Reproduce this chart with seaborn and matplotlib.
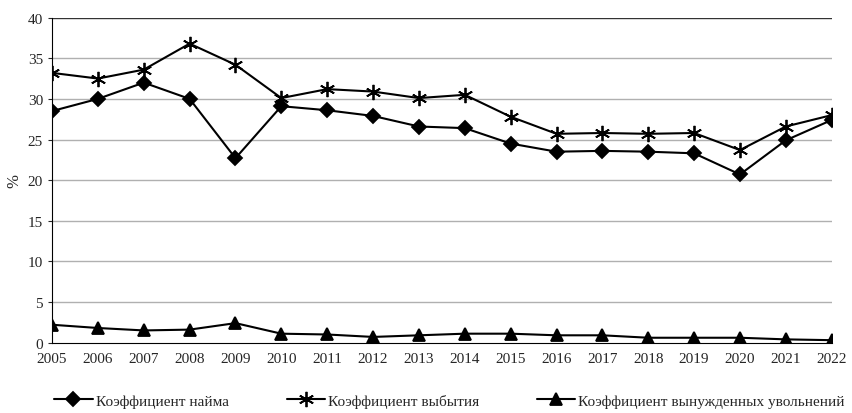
import numpy as np
import pandas as pd
import matplotlib
matplotlib.use('Agg')
import matplotlib.pyplot as plt
import seaborn as sns

years = list(range(2005, 2023))
hire = [28.5, 30.0, 32.0, 30.0, 22.7, 29.1, 28.6, 27.9, 26.6, 26.4, 24.5, 23.5, 23.6, 23.5, 23.3, 20.7, 24.9, 27.4]
leave = [33.2, 32.5, 33.6, 36.8, 34.2, 30.1, 31.2, 30.9, 30.1, 30.5, 27.8, 25.7, 25.8, 25.7, 25.8, 23.7, 26.6, 28.0]
forced = [2.2, 1.8, 1.5, 1.6, 2.4, 1.1, 1.0, 0.7, 0.9, 1.1, 1.1, 0.9, 0.9, 0.6, 0.6, 0.6, 0.4, 0.3]
names = ['Коэффициент найма', 'Коэффициент выбытия', 'Коэффициент вынужденных увольнений']
markers = ['D', (6, 2, 0), '^']
msizes = [7, 11, 8]

sns.set_style('white')
plt.rcParams['font.family'] = ['Liberation Serif', 'DejaVu Serif']

fig, ax = plt.subplots(figsize=(8.53, 4.14), dpi=100)
for vals, name, m, ms in zip([hire, leave, forced], names, markers, msizes):
    sns.lineplot(x=years, y=vals, color='black', marker=m, markersize=ms,
                 markeredgecolor='black', markeredgewidth=1.3, linewidth=1.5,
                 label=name, ax=ax)

ax.set_xlim(2005, 2022)
ax.set_ylim(0, 40)
ax.set_xticks(years)
ax.set_yticks(range(0, 41, 5))
for y in range(5, 40, 5):
    ax.axhline(y, color='#b0b0b0', linewidth=1, zorder=0)
ax.axhline(40, color='#333333', linewidth=1, zorder=0)
for s in ['top', 'right']:
    ax.spines[s].set_visible(False)
ax.spines['left'].set_color('black')
ax.spines['bottom'].set_color('black')
ax.tick_params(axis='both', labelsize=11, length=3, direction='out', left=True, bottom=False)
ax.set_xlabel('')
ax.set_ylabel('%', fontsize=12)

handles, labels = ax.get_legend_handles_labels()
ax.legend(handles, labels, loc='upper center', bbox_to_anchor=(0.51, -0.115), ncol=3,
          frameon=False, fontsize=11, handlelength=2.5, handletextpad=0.2, columnspacing=3.8)

plt.subplots_adjust(left=0.061, right=0.975, top=0.955, bottom=0.17)
plt.savefig('out.png', dpi=100)
